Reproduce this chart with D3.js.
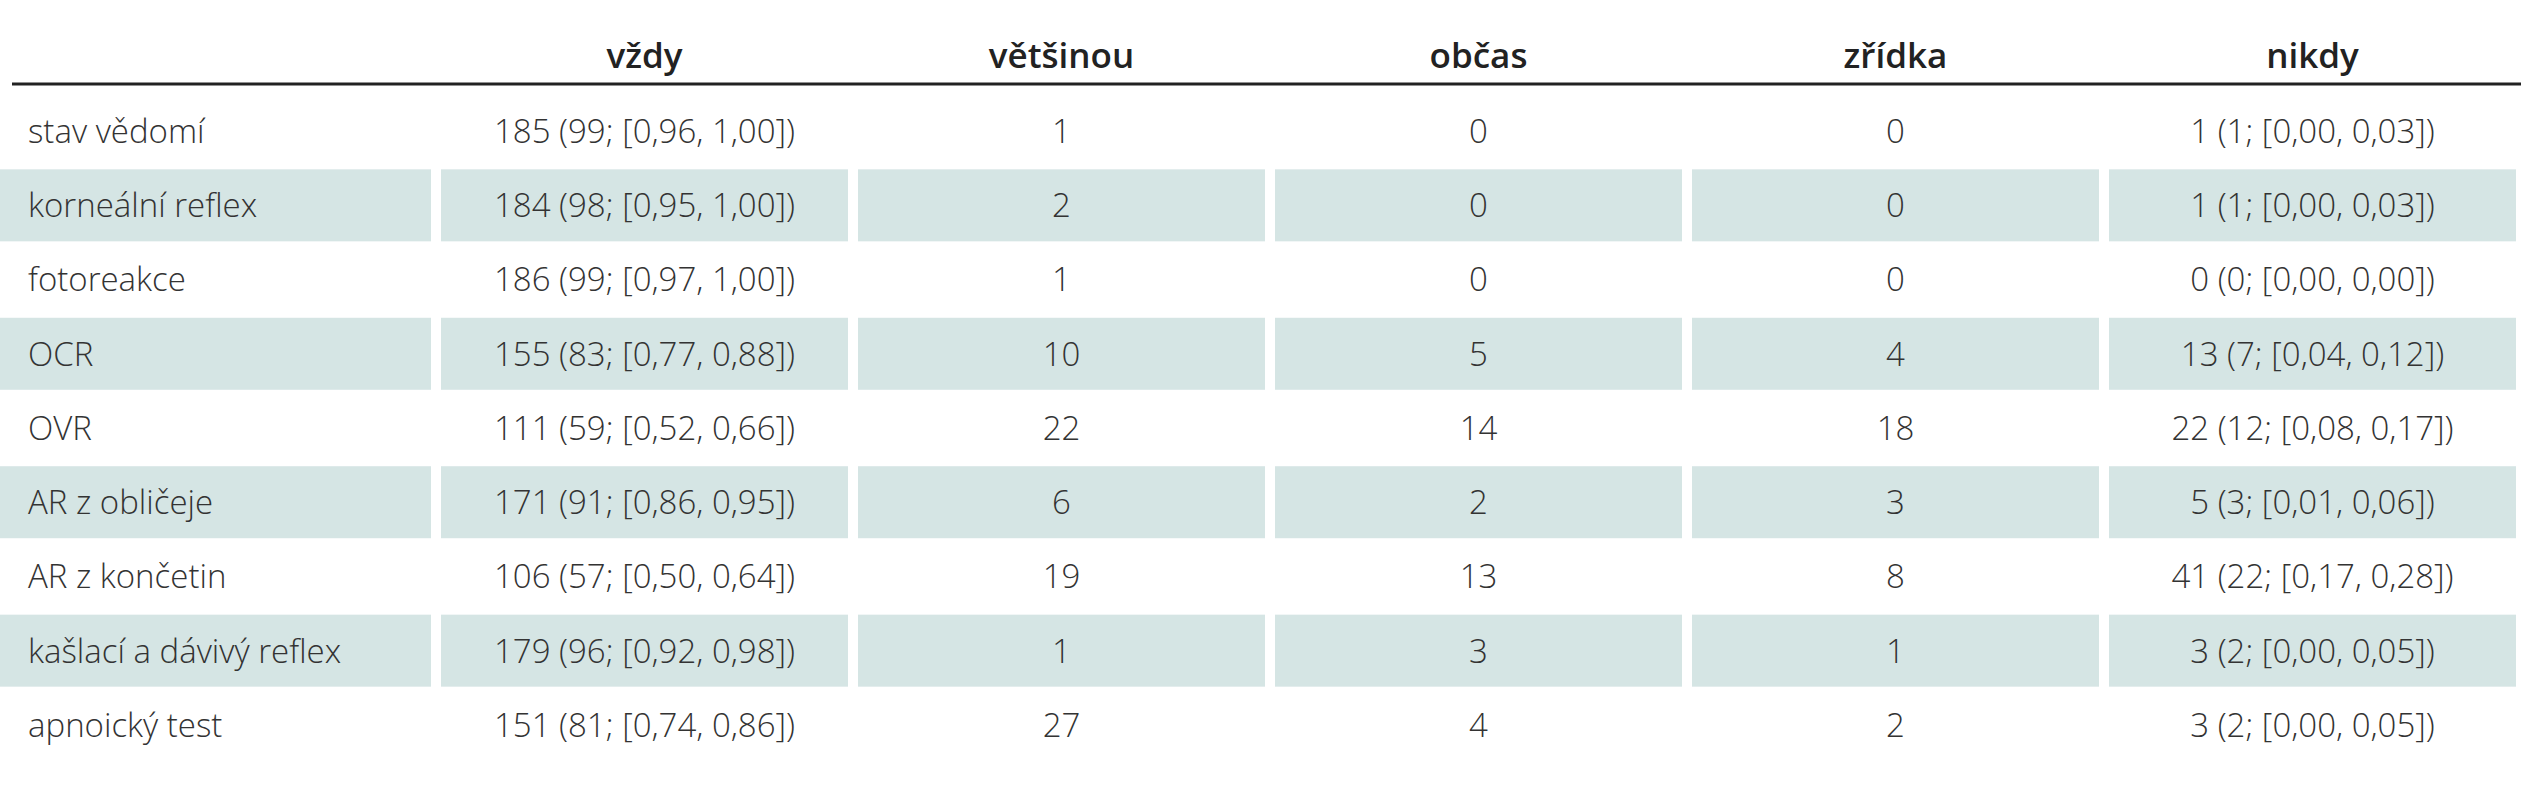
<!DOCTYPE html>
<html><head><meta charset="utf-8">
<script src="https://cdn.jsdelivr.net/npm/d3@7"></script>
<style>body{margin:0;background:#fff}svg{display:block}</style>
</head><body><svg id="c" width="2521" height="800"></svg>
<script>
const columns = ["vždy","většinou","občas","zřídka","nikdy"];
const rows = ["stav vědomí","korneální reflex","fotoreakce","OCR","OVR","AR z obličeje","AR z končetin","kašlací a dávivý reflex","apnoický test"];
const vzdy = ["185 (99; [0,96, 1,00])","184 (98; [0,95, 1,00])","186 (99; [0,97, 1,00])","155 (83; [0,77, 0,88])","111 (59; [0,52, 0,66])","171 (91; [0,86, 0,95])","106 (57; [0,50, 0,64])","179 (96; [0,92, 0,98])","151 (81; [0,74, 0,86])"];
const vetsinou = [1,2,1,10,22,6,19,1,27];
const obcas = [0,0,0,5,14,2,13,3,4];
const zridka = [0,0,0,4,18,3,8,1,2];
const nikdy = ["1 (1; [0,00, 0,03])","1 (1; [0,00, 0,03])","0 (0; [0,00, 0,00])","13 (7; [0,04, 0,12])","22 (12; [0,08, 0,17])","5 (3; [0,01, 0,06])","41 (22; [0,17, 0,28])","3 (2; [0,00, 0,05])","3 (2; [0,00, 0,05])"];
const seriesVals = [vzdy, vetsinou, obcas, zridka, nikdy];

const svg = d3.select("#c");
const font = "'Open Sans', sans-serif";
const labelW = 436;
const x = d3.scaleBand().domain(columns).range([labelW, 2521]).paddingInner(0);
const y = d3.scaleBand().domain(rows).range([94, 762]).paddingInner(0.03).paddingOuter(0.015);

rows.forEach((r,i)=>{
  if(i%2===1){
    svg.append("rect").attr("x",0).attr("y",y(r)).attr("width",labelW-5).attr("height",y.bandwidth()).attr("fill","#d5e5e4");
    columns.forEach(c=>{
      svg.append("rect").attr("x",x(c)+5).attr("y",y(r)).attr("width",x.bandwidth()-10).attr("height",y.bandwidth()).attr("fill","#d5e5e4");
    });
  }
});
svg.append("line").attr("x1",12).attr("x2",2521).attr("y1",84).attr("y2",84).attr("stroke","#222").attr("stroke-width",3);
svg.selectAll("text.h").data(columns).join("text").attr("class","h")
  .attr("x",c=>x(c)+x.bandwidth()/2).attr("y",68).attr("text-anchor","middle")
  .attr("font-family",font).attr("font-size",35).attr("font-weight",600).attr("fill","#222").text(c=>c);
svg.selectAll("text.r").data(rows).join("text").attr("class","r")
  .attr("x",28).attr("y",r=>y(r)+y.bandwidth()/2).attr("dy","0.36em")
  .attr("font-family",font).attr("font-size",33).attr("font-weight",300).attr("fill","#333").text(r=>r);
columns.forEach((c,ci)=>{
  svg.selectAll(null).data(rows).join("text")
    .attr("x",x(c)+x.bandwidth()/2).attr("y",r=>y(r)+y.bandwidth()/2).attr("dy","0.36em")
    .attr("text-anchor","middle").attr("font-family",font).attr("font-size",33).attr("font-weight",300).attr("fill","#333")
    .text((r,i)=>seriesVals[ci][i]);
});
</script></body></html>
